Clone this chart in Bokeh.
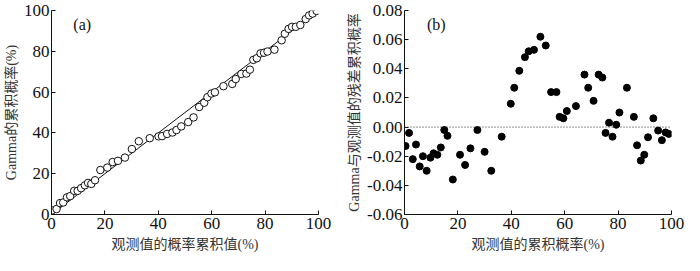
from bokeh.plotting import figure
from bokeh.layouts import row
from bokeh.models import Range1d, Span, FixedTicker, Label, PrintfTickFormatter
from bokeh.embed import file_html
from bokeh.resources import INLINE

# (a) observed cumulative probability (%) vs Gamma cumulative probability (%)
obs_a = [0.2, 1.9, 3.2, 4.4, 5.8, 7.0, 8.5, 9.8, 11.1, 12.5, 13.7, 14.9, 16.3, 18.3,
         20.9, 22.9, 24.9, 27.5, 30.1, 32.7, 36.8, 40.1, 41.4, 43.3, 45.3, 46.8, 48.6,
         51.2, 53.2, 55.3, 57.2, 58.4, 59.9, 61.2, 64.4, 67.7, 69.0, 71.1, 73.0, 74.3,
         75.6, 76.9, 78.3, 79.6, 80.9, 83.5, 86.2, 87.4, 88.8, 90.1, 91.5, 93.2, 95.2,
         96.5, 97.8, 99.3]
gamma_a = [2.0, 2.7, 5.6, 5.9, 8.4, 9.0, 11.6, 11.6, 12.9, 14.3, 15.5, 15.0, 16.8, 21.8,
           23.0, 25.7, 26.3, 27.9, 32.1, 35.9, 37.4, 38.3, 38.4, 39.5, 40.2, 41.4, 43.2,
           45.3, 47.6, 52.7, 54.8, 57.5, 59.3, 59.9, 62.9, 64.0, 66.4, 68.9, 69.1, 71.0,
           75.8, 76.6, 79.0, 79.3, 79.9, 80.8, 85.4, 88.6, 91.0, 92.0, 92.0, 92.9, 95.8,
           97.6, 98.5, 99.8]
fit_x = [0, 100]
fit_y = [0, 100]

# (b) residual cumulative probability
obs_b = [0.4, 1.7, 3.1, 4.3, 5.7, 6.9, 8.3, 9.7, 10.9, 12.3, 13.6, 14.9, 16.1, 18.1,
         20.8, 22.7, 24.7, 27.3, 30.0, 32.5, 36.4, 39.8, 41.1, 43.0, 45.1, 46.5, 48.5,
         50.9, 52.9, 54.9, 56.9, 58.1, 59.5, 60.8, 64.2, 67.4, 68.8, 70.8, 72.7, 74.1,
         75.3, 76.6, 77.9, 79.3, 80.5, 83.3, 85.9, 87.1, 88.5, 89.8, 91.2, 93.2, 95.0,
         96.4, 97.8, 99.0]
resid_b = [-0.013, -0.004, -0.022, -0.012, -0.027, -0.020, -0.030, -0.021, -0.018, -0.019,
           -0.014, -0.002, -0.006, -0.036, -0.019, -0.026, -0.0146, -0.002, -0.017, -0.030,
           -0.0066, 0.016, 0.027, 0.0386, 0.048, 0.052, 0.053, 0.062, 0.056, 0.024, 0.024,
           0.007, 0.006, 0.011, 0.0144, 0.036, 0.027, 0.018, 0.036, 0.034, -0.004, 0.003,
           -0.0066, 0.0016, 0.010, 0.027, 0.007, -0.0125, -0.023, -0.019, -0.007, 0.006,
           -0.0024, -0.009, -0.0037, -0.0047]

x_ticks = [0, 20, 40, 60, 80, 100]
ya_ticks = [0, 20, 40, 60, 80, 100]
yb_ticks = [-0.06, -0.04, -0.02, 0.0, 0.02, 0.04, 0.06, 0.08]

SERIF = "Liberation Serif"
LABEL_FONT = "Liberation Serif, Noto Sans CJK SC"


def style(p):
    p.outline_line_color = None
    p.xgrid.visible = False
    p.ygrid.visible = False
    p.background_fill_color = "white"
    p.border_fill_color = "white"
    for ax in (p.xaxis[0], p.yaxis[0]):
        ax.axis_line_color = "#111111"
        ax.axis_line_width = 1
        ax.major_tick_line_color = "#111111"
        ax.major_tick_in = 4
        ax.major_tick_out = 0
        ax.minor_tick_line_color = None
        ax.major_label_text_font = SERIF
        ax.major_label_text_font_size = "17px"
        ax.major_label_text_color = "#111111"
        ax.axis_label_text_font = LABEL_FONT
        ax.axis_label_text_font_size = "14px"
        ax.axis_label_text_font_style = "normal"
        ax.axis_label_text_color = "#333333"
    p.xaxis[0].major_label_standoff = 3
    p.yaxis[0].major_label_standoff = 2
    p.xaxis[0].axis_label_standoff = 5
    p.yaxis[0].axis_label_standoff = 2


pa = figure(width=332, height=255, output_backend="svg", toolbar_location=None,
            x_range=Range1d(0, 100), y_range=Range1d(0, 100),
            min_border_left=44, min_border_right=14, min_border_top=10, min_border_bottom=41,
            x_axis_label="观测值的概率累积值(%)", y_axis_label="Gamma的累积概率(%)")
style(pa)
pa.xaxis[0].ticker = FixedTicker(ticks=x_ticks)
pa.yaxis[0].ticker = FixedTicker(ticks=ya_ticks)
pa.line(fit_x, fit_y, line_color="#111111", line_width=1)
pa.scatter(obs_a, gamma_a, marker="circle", size=7.5, line_color="#111111",
           line_width=1, fill_color="white")
pa.add_layout(Label(x=11.5, y=93, text="(a)", text_font=SERIF, text_font_size="16px",
                    text_align="center", text_baseline="middle", text_color="#111111"))

pb = figure(width=352, height=255, output_backend="svg", toolbar_location=None,
            x_range=Range1d(0, 100), y_range=Range1d(-0.06, 0.08),
            min_border_left=72, min_border_right=13, min_border_top=10, min_border_bottom=41,
            x_axis_label="观测值的累积概率(%)", y_axis_label="Gamma与观测值的残差累积概率")
style(pb)
pb.xaxis[0].ticker = FixedTicker(ticks=x_ticks)
pb.yaxis[0].ticker = FixedTicker(ticks=yb_ticks)
pb.yaxis[0].formatter = PrintfTickFormatter(format="%.2f")
pb.add_layout(Span(location=0, dimension="width", line_color="#222222",
                   line_width=1, line_dash="1 2"))
pb.scatter(obs_b, resid_b, marker="circle", size=7, line_color="black",
           fill_color="black")
pb.add_layout(Label(x=11.9, y=0.0705, text="(b)", text_font=SERIF, text_font_size="16px",
                    text_align="center", text_baseline="middle", text_color="#111111"))

layout = row(pa, pb)
open("out.html", "w").write(file_html(layout, INLINE))
